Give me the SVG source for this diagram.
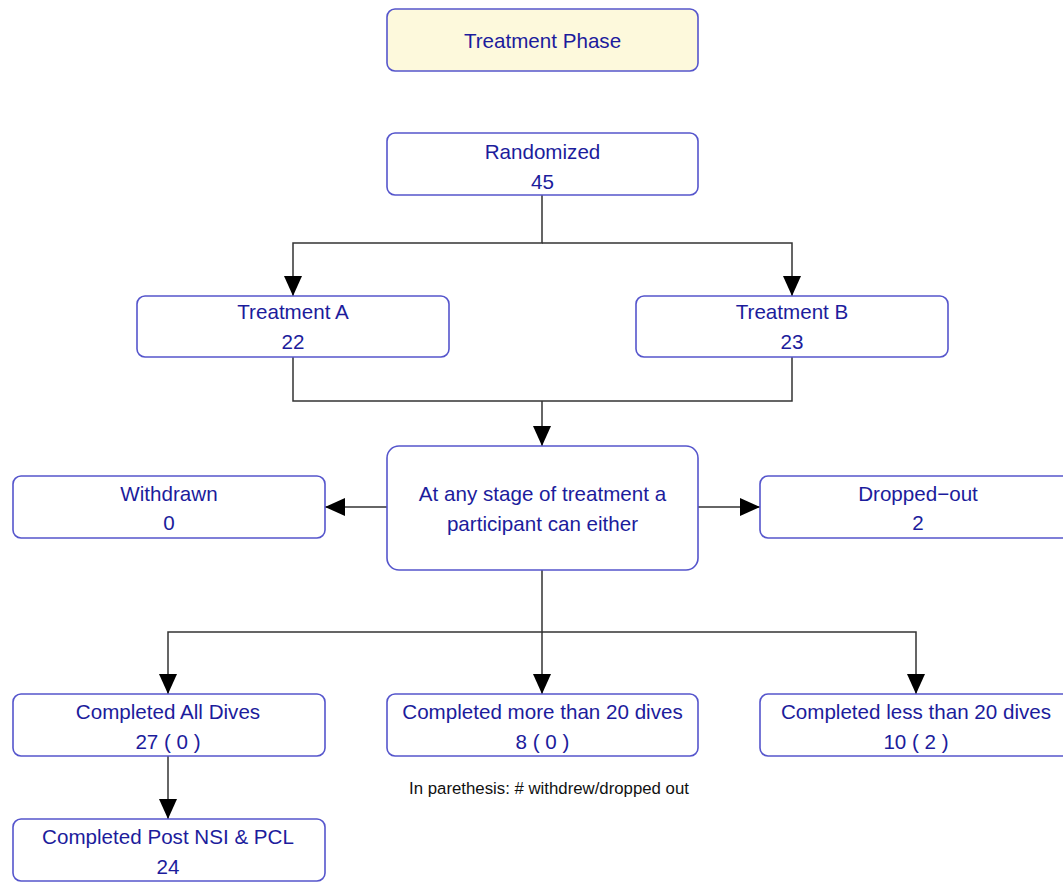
<svg xmlns="http://www.w3.org/2000/svg" width="1063" height="882" viewBox="0 0 1063 882">
  <style>
    .box { fill: #ffffff; stroke: #5555cc; stroke-width: 1.6; }
    .phase { fill: #fdf9dc; }
    .lbl { font-family: "Liberation Sans", Arial, sans-serif; font-size: 20.6px; fill: #1c1c9c; text-anchor: middle; }
    .note { font-family: "Liberation Sans", Arial, sans-serif; font-size: 16.8px; fill: #111111; text-anchor: middle; }
    .wire { fill: none; stroke: #333333; stroke-width: 1.5; }
  </style>
  <defs>
    <marker id="tip" viewBox="0 0 20 18" refX="20" refY="9" markerWidth="20" markerHeight="18" markerUnits="userSpaceOnUse" orient="auto">
      <path d="M0,0 L20,9 L0,18 Z" fill="#000000"/>
    </marker>
  </defs>
  <rect width="1063" height="882" fill="#ffffff"/>

  <g id="connectors">
    <path class="wire" d="M542,195 V243 H293 V296" marker-end="url(#tip)"/>
    <path class="wire" d="M542,243 H792 V296" marker-end="url(#tip)"/>
    <path class="wire" d="M293,357 V401 H792 V357"/>
    <path class="wire" d="M542,401 V446" marker-end="url(#tip)"/>
    <path class="wire" d="M387,507 H325" marker-end="url(#tip)"/>
    <path class="wire" d="M698,507 H760" marker-end="url(#tip)"/>
    <path class="wire" d="M542,570 V632 H168 V694" marker-end="url(#tip)"/>
    <path class="wire" d="M542,632 V694" marker-end="url(#tip)"/>
    <path class="wire" d="M542,632 H916 V694" marker-end="url(#tip)"/>
    <path class="wire" d="M168,756 V819" marker-end="url(#tip)"/>
  </g>

  <g id="phase">
    <rect class="box phase" x="387" y="9" width="311" height="62" rx="8"/>
    <text class="lbl" x="542.5" y="48">Treatment Phase</text>
  </g>
  <g id="randomized">
    <rect class="box" x="387" y="133" width="311" height="62" rx="8"/>
    <text class="lbl" x="542.5" y="159">Randomized</text>
    <text class="lbl" x="542.5" y="189">45</text>
  </g>
  <g id="treatment-a">
    <rect class="box" x="137" y="296" width="312" height="61" rx="8"/>
    <text class="lbl" x="293" y="319">Treatment A</text>
    <text class="lbl" x="293" y="349">22</text>
  </g>
  <g id="treatment-b">
    <rect class="box" x="636" y="296" width="312" height="61" rx="8"/>
    <text class="lbl" x="792" y="319">Treatment B</text>
    <text class="lbl" x="792" y="349">23</text>
  </g>
  <g id="stage">
    <rect class="box" x="387" y="446" width="311" height="124" rx="12"/>
    <text class="lbl" x="542.5" y="501">At any stage of treatment a</text>
    <text class="lbl" x="542.5" y="531">participant can either</text>
  </g>
  <g id="withdrawn">
    <rect class="box" x="13" y="476" width="312" height="62" rx="8"/>
    <text class="lbl" x="169" y="501">Withdrawn</text>
    <text class="lbl" x="169" y="530">0</text>
  </g>
  <g id="dropped-out">
    <rect class="box" x="760" y="476" width="312" height="62" rx="8"/>
    <text class="lbl" x="918" y="501">Dropped−out</text>
    <text class="lbl" x="918" y="530">2</text>
  </g>
  <g id="completed-all">
    <rect class="box" x="13" y="694" width="312" height="62" rx="8"/>
    <text class="lbl" x="168" y="719">Completed All Dives</text>
    <text class="lbl" x="168" y="749">27 ( 0 )</text>
  </g>
  <g id="completed-more">
    <rect class="box" x="387" y="694" width="311" height="62" rx="8"/>
    <text class="lbl" x="542.5" y="719">Completed more than 20 dives</text>
    <text class="lbl" x="542.5" y="749">8 ( 0 )</text>
  </g>
  <g id="completed-less">
    <rect class="box" x="760" y="694" width="312" height="62" rx="8"/>
    <text class="lbl" x="916" y="719">Completed less than 20 dives</text>
    <text class="lbl" x="916" y="749">10 ( 2 )</text>
  </g>
  <g id="completed-post">
    <rect class="box" x="13" y="819" width="312" height="62" rx="8"/>
    <text class="lbl" x="168" y="844">Completed Post NSI &amp; PCL</text>
    <text class="lbl" x="168" y="874">24</text>
  </g>
  <text class="note" x="549" y="794">In parethesis: # withdrew/dropped out</text>
</svg>
